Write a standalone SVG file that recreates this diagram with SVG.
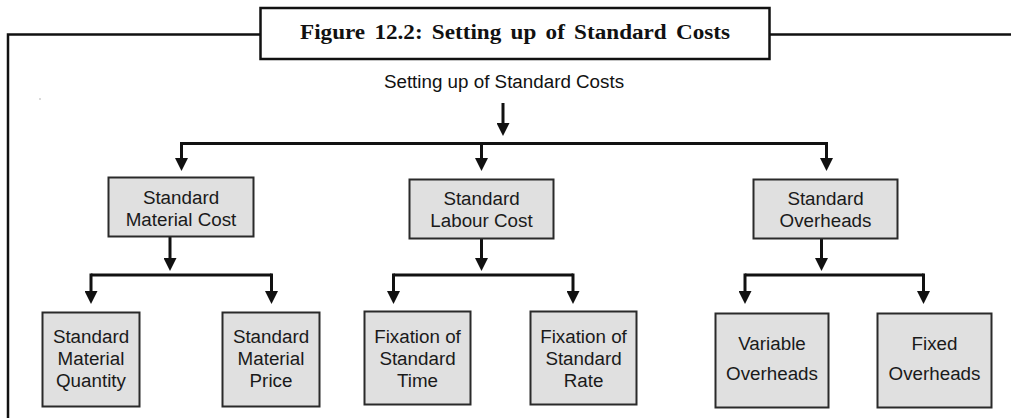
<svg xmlns="http://www.w3.org/2000/svg" width="1011" height="418" viewBox="0 0 1011 418">
<defs>
<marker id="ah" markerUnits="userSpaceOnUse" markerWidth="13" markerHeight="13" refX="1" refY="6.5" orient="auto">
<path d="M0,0 L13,6.5 L0,13 z" fill="#111"/>
</marker>
<style>
.frame{fill:none;stroke:#111;stroke-width:2.5}
.title{font-family:"Liberation Serif",serif;font-weight:bold;font-size:20px;fill:#111}
.root{font-family:"Liberation Sans",Arial,sans-serif;font-size:18.8px;fill:#111}
.box rect{fill:#e0e0e0;stroke:#2a2a2a;stroke-width:2}
.box text{font-family:"Liberation Sans",Arial,sans-serif;font-size:18.8px;fill:#1a1a1a;text-anchor:middle}
.ln{fill:none;stroke:#111;stroke-width:3}
.ar{fill:none;stroke:#111;stroke-width:3;marker-end:url(#ah)}
</style>
</defs>
<rect width="1011" height="418" fill="#fff"/>
<g id="frame">
<path class="frame" d="M8,418 V34.5 H260.5 M769.5,34.5 H1011"/>
<rect class="frame" x="260.5" y="8" width="509" height="51"/>
<text class="title" x="515" y="39" text-anchor="middle" textLength="430" lengthAdjust="spacingAndGlyphs" word-spacing="3">Figure 12.2: Setting up of Standard Costs</text>
<circle cx="40" cy="99" r="0.7" fill="#999"/>
</g>
<g id="root">
<text class="root" x="504" y="88" text-anchor="middle">Setting up of Standard Costs</text>
</g>
<g id="connectors">
<path class="ar" d="M503,103 V124"/>
<path class="ln" d="M181.5,143.5 H826.5"/>
<path class="ar" d="M181.5,142 V159"/>
<path class="ar" d="M481.5,142 V159"/>
<path class="ar" d="M826.5,142 V159"/>
<path class="ar" d="M170,237 V259"/>
<path class="ar" d="M481.5,239 V259"/>
<path class="ar" d="M821.5,239 V259"/>
<path class="ln" d="M91,275 H271.5"/>
<path class="ln" d="M393.5,275 H573"/>
<path class="ln" d="M745,275 H923.5"/>
<path class="ar" d="M91,273.5 V292"/>
<path class="ar" d="M271.5,273.5 V292"/>
<path class="ar" d="M393.5,273.5 V292"/>
<path class="ar" d="M573,273.5 V292"/>
<path class="ar" d="M745,273.5 V292"/>
<path class="ar" d="M923.5,273.5 V292"/>
</g>
<g id="material" class="box">
<rect x="108.5" y="177.5" width="145" height="59"/>
<text x="181" y="204">Standard</text>
<text x="181" y="226">Material Cost</text>
</g>
<g id="labour" class="box">
<rect x="409.5" y="179.5" width="144" height="59"/>
<text x="481.5" y="205">Standard</text>
<text x="481.5" y="227">Labour Cost</text>
</g>
<g id="overheads" class="box">
<rect x="753.5" y="179.5" width="144" height="59"/>
<text x="825.5" y="205">Standard</text>
<text x="825.5" y="227">Overheads</text>
</g>
<g id="mat-qty" class="box">
<rect x="42.5" y="312.5" width="97" height="94"/>
<text x="91" y="343">Standard</text>
<text x="91" y="365">Material</text>
<text x="91" y="387">Quantity</text>
</g>
<g id="mat-price" class="box">
<rect x="222.5" y="312.5" width="97" height="94"/>
<text x="271" y="343">Standard</text>
<text x="271" y="365">Material</text>
<text x="271" y="387">Price</text>
</g>
<g id="std-time" class="box">
<rect x="364.5" y="311.5" width="106" height="93"/>
<text x="417.5" y="343">Fixation of</text>
<text x="417.5" y="365">Standard</text>
<text x="417.5" y="387">Time</text>
</g>
<g id="std-rate" class="box">
<rect x="530.5" y="311.5" width="106" height="93"/>
<text x="583.5" y="343">Fixation of</text>
<text x="583.5" y="365">Standard</text>
<text x="583.5" y="387">Rate</text>
</g>
<g id="var-oh" class="box">
<rect x="715.5" y="313.5" width="113" height="94"/>
<text x="772" y="350">Variable</text>
<text x="772" y="380">Overheads</text>
</g>
<g id="fixed-oh" class="box">
<rect x="877.5" y="313.5" width="114" height="94"/>
<text x="934.5" y="350">Fixed</text>
<text x="934.5" y="380">Overheads</text>
</g>
</svg>
